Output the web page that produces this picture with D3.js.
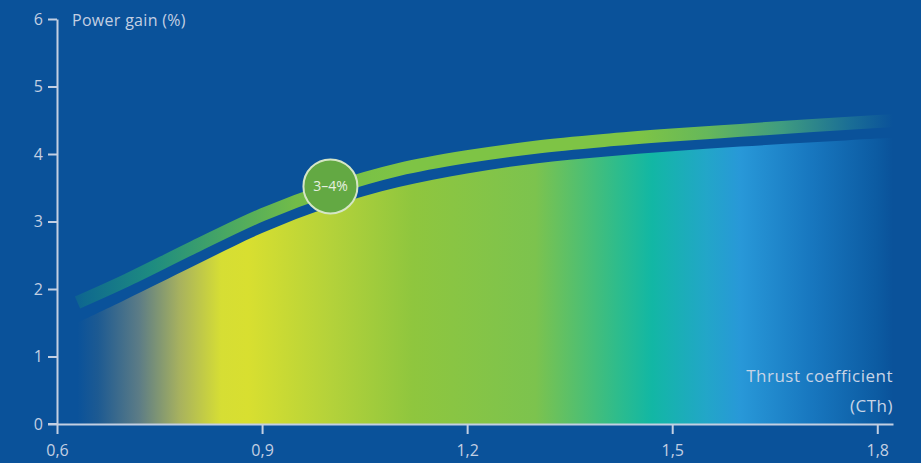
<!DOCTYPE html>
<html>
<head>
<meta charset="utf-8">
<script src="https://cdn.jsdelivr.net/npm/d3@7"></script>
<style>
  html, body { margin: 0; padding: 0; background: #0a529a; }
  svg { display: block; }
  .axis text { font-family: "Open Sans", sans-serif; font-size: 16px; fill: #c3cfe2; }
  .axis path, .axis line { stroke: #c3cfe2; stroke-width: 2; }
</style>
</head>
<body>
<div id="chart"></div>
<script>
// data
var cth        = [0.63, 0.7, 0.8, 0.9, 1.0, 1.1, 1.2, 1.3, 1.4, 1.5, 1.6, 1.7, 1.8, 1.83]
var gainUpper  = [1.8, 2.12, 2.62, 3.1, 3.48, 3.77, 3.96, 4.1, 4.2, 4.28, 4.35, 4.42, 4.48, 4.5]
var gainLower  = [1.5, 1.84, 2.34, 2.83, 3.22, 3.51, 3.71, 3.86, 3.96, 4.04, 4.11, 4.17, 4.23, 4.25]
var xTicks     = [0.6, 0.9, 1.2, 1.5, 1.8]
var yTicks     = [0, 1, 2, 3, 4, 5, 6]
var badge      = {cth: 1.0, gain: 3.52, label: "3–4%"}
var yTitle     = "Power gain (%)"
var xTitle     = ["Thrust coefficient", "(CTh)"]

var width = 921, height = 463
var svg = d3.select('#chart').append('svg')
    .attr('width', width)
    .attr('height', height)

svg.append('rect').attr('width', width).attr('height', height).attr('fill', '#0a529a')

var xScale = d3.scaleLinear().domain([0.6, 1.823]).range([57, 893])
var yScale = d3.scaleLinear().domain([0, 6]).range([424, 19])

var rows = cth.map(function(c, i) {
    return {cth: c, up: gainUpper[i], low: gainLower[i]}
})

var defs = svg.append('defs')

// horizontal gradient helper, stops given in cth units
function makeGradient(id, stops) {
    var x1 = xScale(0.6), x2 = xScale(1.823)
    var g = defs.append('linearGradient')
        .attr('id', id)
        .attr('gradientUnits', 'userSpaceOnUse')
        .attr('x1', x1).attr('x2', x2).attr('y1', 0).attr('y2', 0)
    stops.forEach(function(s) {
        g.append('stop')
            .attr('offset', (xScale(s[0]) - x1) / (x2 - x1))
            .attr('stop-color', s[1])
    })
}

makeGradient('areaGrad', [
    [0.63, '#0a529a'],
    [0.66, '#1d5a92'],
    [0.72, '#5c7c86'],
    [0.78, '#a8b25e'],
    [0.84, '#d6de34'],
    [0.88, '#d8df30'],
    [1.0,  '#b4d23a'],
    [1.12, '#8fc63e'],
    [1.3,  '#7cc34e'],
    [1.42, '#2ebc8c'],
    [1.47, '#12b7a4'],
    [1.55, '#22a6c8'],
    [1.6,  '#2898d8'],
    [1.7,  '#1878c0'],
    [1.8,  '#0c5ba2'],
    [1.823,'#0a529a']
])

makeGradient('lineGrad', [
    [0.6,  '#0a529a'],
    [0.64, '#0f6a8e'],
    [0.74, '#1e8c80'],
    [0.85, '#4aa862'],
    [0.95, '#72bc48'],
    [1.1,  '#7ec445'],
    [1.45, '#7ec445'],
    [1.55, '#66b85a'],
    [1.66, '#3f9c80'],
    [1.76, '#1a6e96'],
    [1.823,'#0a529a']
])

// filled region under the lower curve
var areaGen = d3.area()
    .x(function(d) { return xScale(d.cth) })
    .y0(yScale(0))
    .y1(function(d) { return yScale(d.low) })
    .curve(d3.curveCatmullRom)

svg.append('path')
    .datum(rows)
    .attr('d', areaGen)
    .attr('fill', 'url(#areaGrad)')

// green band above
var lineGen = d3.line()
    .x(function(d) { return xScale(d.cth) })
    .y(function(d) { return yScale(d.up) })
    .curve(d3.curveCatmullRom)

svg.append('path')
    .datum(rows)
    .attr('d', lineGen)
    .attr('fill', 'none')
    .attr('stroke', 'url(#lineGrad)')
    .attr('stroke-width', 13)

// axes
var xAxis = d3.axisBottom(xScale)
    .tickValues(xTicks)
    .tickSize(10)
    .tickSizeOuter(0)
    .tickFormat(function(d) { return d3.format('.1f')(d).replace('.', ',') })

var xg = svg.append('g')
    .attr('class', 'axis')
    .attr('transform', 'translate(0,' + yScale(0) + ')')
    .call(xAxis)
xg.selectAll('text').attr('y', 21)

var yAxis = d3.axisLeft(yScale)
    .tickValues(yTicks)
    .tickSize(9)
    .tickSizeOuter(0)
    .tickPadding(5)
    .tickFormat(d3.format('d'))

var yg = svg.append('g')
    .attr('class', 'axis')
    .attr('transform', 'translate(' + xScale(0.6) + ',0)')
    .call(yAxis)

// small extension of x axis to the left under the 0 tick
svg.append('line')
    .attr('x1', xScale(0.6) - 9).attr('x2', xScale(0.6))
    .attr('y1', yScale(0)).attr('y2', yScale(0))
    .attr('stroke', '#c3cfe2').attr('stroke-width', 2)

// titles
svg.append('text')
    .attr('x', 72).attr('y', 26)
    .attr('font-family', 'Open Sans, sans-serif')
    .attr('font-size', 16)
    .attr('letter-spacing', 0.3)
    .attr('fill', '#c3cfe2')
    .text(yTitle)

svg.selectAll('.xtitle')
    .data(xTitle)
    .enter().append('text')
    .attr('class', 'xtitle')
    .attr('x', 893)
    .attr('y', function(d, i) { return 382 + i * 30 })
    .attr('text-anchor', 'end')
    .attr('font-family', 'Open Sans, sans-serif')
    .attr('font-size', 17)
    .attr('letter-spacing', 0.5)
    .attr('fill', '#c8d4e6')
    .text(function(d) { return d })

// badge on the band
var bx = xScale(badge.cth), by = yScale(badge.gain)
svg.append('circle')
    .attr('cx', bx).attr('cy', by).attr('r', 27)
    .attr('fill', '#63a943')
    .attr('stroke', '#d5e6c6')
    .attr('stroke-width', 2)

svg.append('text')
    .attr('x', bx).attr('y', by)
    .attr('dy', '0.35em')
    .attr('text-anchor', 'middle')
    .attr('font-family', 'Open Sans, sans-serif')
    .attr('font-size', 14)
    .attr('fill', '#e6efe0')
    .text(badge.label)
</script>
</body>
</html>
